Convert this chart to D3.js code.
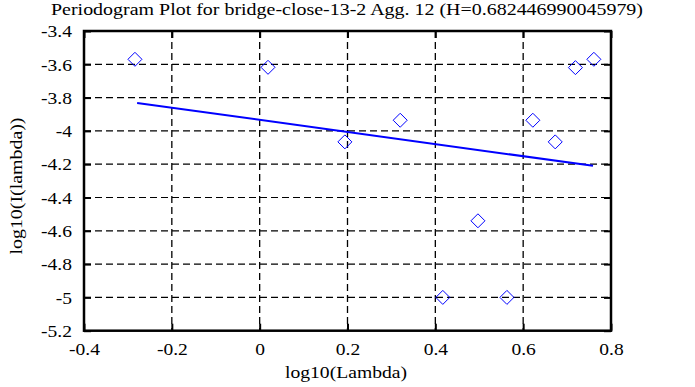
<!DOCTYPE html>
<html>
<head>
<meta charset="utf-8">
<script src="https://cdn.jsdelivr.net/npm/d3@7"></script>
</head>
<body style="margin:0">
<div id="chart"></div>
<script>
// Data //
var xVals = [-0.284, 0.019, 0.194, 0.320, 0.497, 0.417, 0.563, 0.622, 0.673, 0.719, 0.761];
var yVals = [-3.570, -3.618, -4.066, -3.936, -4.540, -5.000, -5.000, -3.936, -4.066, -3.620, -3.570];
var fitX = [-0.279, 0.759];
var fitY = [-3.832, -4.210];
var xTicks = [-0.4, -0.2, 0, 0.2, 0.4, 0.6, 0.8];
var yTicks = [-3.4, -3.6, -3.8, -4, -4.2, -4.4, -4.6, -4.8, -5, -5.2];
var title = "Periodogram Plot for bridge-close-13-2 Agg. 12 (H=0.682446990045979)";

var svgWidth = 695;
var svgHeight = 387;
var margin = { top: 31, left: 84 };
var width = 611 - margin.left;
var height = 330.7 - margin.top;
var serif = "'Liberation Serif'";

var svg = d3.select("#chart")
  .append("svg")
  .attr("width", svgWidth)
  .attr("height", svgHeight);

var chartGroup = svg.append("g")
  .attr("transform", `translate(${margin.left}, ${margin.top})`);

// widen glyphs a bit, the reference font runs wide
function stretch(sel, k) {
  sel.each(function() {
    var w = this.getComputedTextLength();
    d3.select(this).attr("textLength", w * k).attr("lengthAdjust", "spacingAndGlyphs");
  });
}

// Scales //
var xScale = d3.scaleLinear().domain([-0.4, 0.8]).range([0, width]);
var yScale = d3.scaleLinear().domain([-5.2, -3.4]).range([height, 0]);

// Grid //
chartGroup.selectAll(".vgrid")
  .data(xTicks.slice(1, -1))
  .enter()
  .append("line")
  .attr("x1", d => xScale(d)).attr("x2", d => xScale(d))
  .attr("y1", 0).attr("y2", height)
  .attr("stroke", "#000").attr("stroke-width", 1.3)
  .attr("stroke-dasharray", "7,4");

chartGroup.selectAll(".hgrid")
  .data(yTicks.slice(1, -1))
  .enter()
  .append("line")
  .attr("y1", d => yScale(d)).attr("y2", d => yScale(d))
  .attr("x1", 0).attr("x2", width)
  .attr("stroke", "#000").attr("stroke-width", 1.2)
  .attr("stroke-dasharray", "7,4");

// Axes //
var bottomAxis = d3.axisBottom(xScale).tickValues(xTicks).tickSize(-7)
  .tickFormat(d => String(+d.toFixed(1)));
var leftAxis = d3.axisLeft(yScale).tickValues(yTicks).tickSize(-7)
  .tickFormat(d => String(+d.toFixed(1)));
var topAxis = d3.axisTop(xScale).tickValues(xTicks).tickSize(-7).tickFormat("");
var rightAxis = d3.axisRight(yScale).tickValues(yTicks).tickSize(-7).tickFormat("");

function styleAxis(g) {
  g.attr("font-family", null).attr("font-size", null);
  g.select(".domain").remove();
  g.selectAll(".tick line").attr("stroke", "#000").attr("stroke-width", 2);
  g.selectAll(".tick text")
    .style("font-family", serif)
    .style("font-size", "16px")
    .attr("fill", "#000");
}

var xAxisG = chartGroup.append("g").attr("transform", `translate(0, ${height})`).call(bottomAxis).call(styleAxis);
xAxisG.selectAll(".tick text").attr("y", 24).attr("dy", null).call(stretch, 1.22);

var yAxisG = chartGroup.append("g").call(leftAxis).call(styleAxis);
yAxisG.selectAll(".tick text").attr("x", -12).attr("dy", "0.36em").call(stretch, 1.22);

chartGroup.append("g").call(topAxis).call(styleAxis);
chartGroup.append("g").attr("transform", `translate(${width}, 0)`).call(rightAxis).call(styleAxis);

// Border //
chartGroup.append("rect")
  .attr("x", 0).attr("y", 0)
  .attr("width", width).attr("height", height)
  .attr("fill", "none").attr("stroke", "#000").attr("stroke-width", 2.5);

// Fit line //
chartGroup.append("line")
  .attr("x1", xScale(fitX[0])).attr("y1", yScale(fitY[0]))
  .attr("x2", xScale(fitX[1])).attr("y2", yScale(fitY[1]))
  .attr("stroke", "#0000ff").attr("stroke-width", 2);

// Diamonds //
var pts = xVals.map((x, i) => ({ x: x, y: yVals[i] }));
chartGroup.selectAll(".pt")
  .data(pts)
  .enter()
  .append("path")
  .attr("d", d => {
    var cx = xScale(d.x), cy = yScale(d.y), r = 7;
    return `M${cx},${cy - r}L${cx + r},${cy}L${cx},${cy + r}L${cx - r},${cy}Z`;
  })
  .attr("fill", "none")
  .attr("stroke", "#0000ff")
  .attr("stroke-width", 1);

// Labels //
svg.append("text")
  .attr("x", 347).attr("y", 15)
  .attr("text-anchor", "middle")
  .style("font-family", serif).style("font-size", "16.5px")
  .attr("textLength", 592).attr("lengthAdjust", "spacingAndGlyphs")
  .text(title);

svg.append("text")
  .attr("x", 346).attr("y", 378)
  .attr("text-anchor", "middle")
  .style("font-family", serif).style("font-size", "17px")
  .attr("textLength", 122).attr("lengthAdjust", "spacingAndGlyphs")
  .text("log10(Lambda)");

svg.append("text")
  .attr("transform", "translate(22, 186) rotate(-90)")
  .attr("text-anchor", "middle")
  .style("font-family", serif).style("font-size", "17px")
  .attr("textLength", 137).attr("lengthAdjust", "spacingAndGlyphs")
  .text("log10(I(lambda))");
</script>
</body>
</html>
